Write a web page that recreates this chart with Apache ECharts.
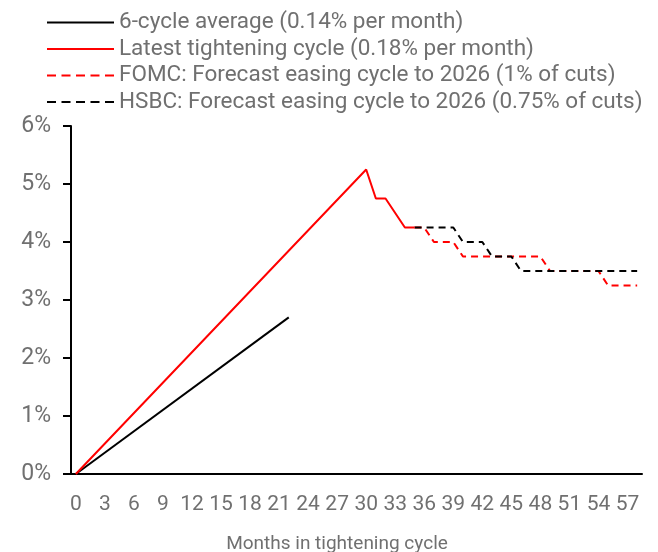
<!DOCTYPE html>
<html>
<head>
<meta charset="utf-8">
<script src="https://cdn.jsdelivr.net/npm/echarts@6/dist/echarts.min.js"></script>
<style>
html,body{margin:0;padding:0;background:#fff;}
#chart{width:658px;height:552px;}
</style>
</head>
<body>
<div id="chart"></div>
<script>
// Categories: months in tightening cycle
const months = ['0','1','2','3','4','5','6','7','8','9','10','11','12','13','14','15','16','17','18','19','20','21','22','23','24','25','26','27','28','29','30','31','32','33','34','35','36','37','38','39','40','41','42','43','44','45','46','47','48','49','50','51','52','53','54','55','56','57','58'];
const yTicks = [0, 1, 2, 3, 4, 5, 6];

const seriesNames = [
  '6-cycle average (0.14% per month)',
  'Latest tightening cycle (0.18% per month)',
  'FOMC: Forecast easing cycle to 2026 (1% of cuts)',
  'HSBC: Forecast easing cycle to 2026 (0.75% of cuts)'
];

const avgX = [0, 22];
const avgY = [0, 2.7];

const latestX = [0, 30, 31, 32, 34, 35];
const latestY = [0, 5.25, 4.75, 4.75, 4.25, 4.25];

const fomcX = [35, 36, 37, 39, 40, 48, 49, 54, 55, 58];
const fomcY = [4.25, 4.25, 4.0, 4.0, 3.75, 3.75, 3.5, 3.5, 3.25, 3.25];

const hsbcX = [35, 39, 40, 42, 43, 45, 46, 58];
const hsbcY = [4.25, 4.25, 4.0, 4.0, 3.75, 3.75, 3.5, 3.5];

function pairs(xs, ys) { return xs.map((x, i) => [x, ys[i]]); }

const FONT = 'Roboto';
const GREY = '#707070';

const chart = echarts.init(document.getElementById('chart'), null, {renderer: 'canvas'});
chart.setOption({
  animation: false,
  backgroundColor: '#ffffff',
  textStyle: {fontFamily: FONT},
  title: {
    text: 'Months in tightening cycle',
    left: 332, top: 530, textAlign: 'center',
    textStyle: {fontFamily: FONT, fontSize: 19, fontWeight: 'normal', color: GREY}
  },
  legend: {
    orient: 'vertical',
    left: 46, top: 11,
    itemWidth: 67, itemHeight: 14, itemGap: 3.5,
    padding: 0,
    itemStyle: {opacity: 0},
    textStyle: {fontFamily: FONT, fontSize: 22.5, color: GREY, lineHeight: 22.5},
    data: [
      {name: seriesNames[0]},
      {name: seriesNames[1]},
      {name: seriesNames[2], lineStyle: {type: [9, 5.5]}},
      {name: seriesNames[3], lineStyle: {type: [9, 5.5]}}
    ]
  },
  grid: {left: 71, right: 16, top: 126, bottom: 78},
  xAxis: {
    type: 'category',
    data: months,
    boundaryGap: true,
    axisLine: {lineStyle: {color: '#000', width: 2}},
    axisTick: {show: false},
    axisLabel: {interval: 2, color: GREY, fontFamily: FONT, fontSize: 21, margin: 20},
    splitLine: {show: false}
  },
  yAxis: {
    type: 'value',
    min: yTicks[0], max: yTicks[yTicks.length - 1], interval: 1,
    axisLine: {show: true, lineStyle: {color: '#000', width: 2}},
    axisTick: {show: true, length: 8, inside: false, lineStyle: {color: '#000', width: 2}},
    axisLabel: {formatter: '{value}%', color: GREY, fontFamily: FONT, fontSize: 23, margin: 20},
    splitLine: {show: false}
  },
  series: [
    {name: seriesNames[0], type: 'line', data: pairs(avgX, avgY), symbol: 'none',
     lineStyle: {color: '#000', width: 2}, itemStyle: {color: '#000'}},
    {name: seriesNames[2], type: 'line', data: pairs(fomcX, fomcY), symbol: 'none',
     lineStyle: {color: '#ff0000', width: 2, type: [7, 5]}, itemStyle: {color: '#ff0000'}},
    {name: seriesNames[3], type: 'line', data: pairs(hsbcX, hsbcY), symbol: 'none',
     lineStyle: {color: '#000', width: 2, type: [7, 5]}, itemStyle: {color: '#000'}},
    {name: seriesNames[1], type: 'line', data: pairs(latestX, latestY), symbol: 'none',
     lineStyle: {color: '#ff0000', width: 2}, itemStyle: {color: '#ff0000'}}
  ]
});
</script>
</body>
</html>
